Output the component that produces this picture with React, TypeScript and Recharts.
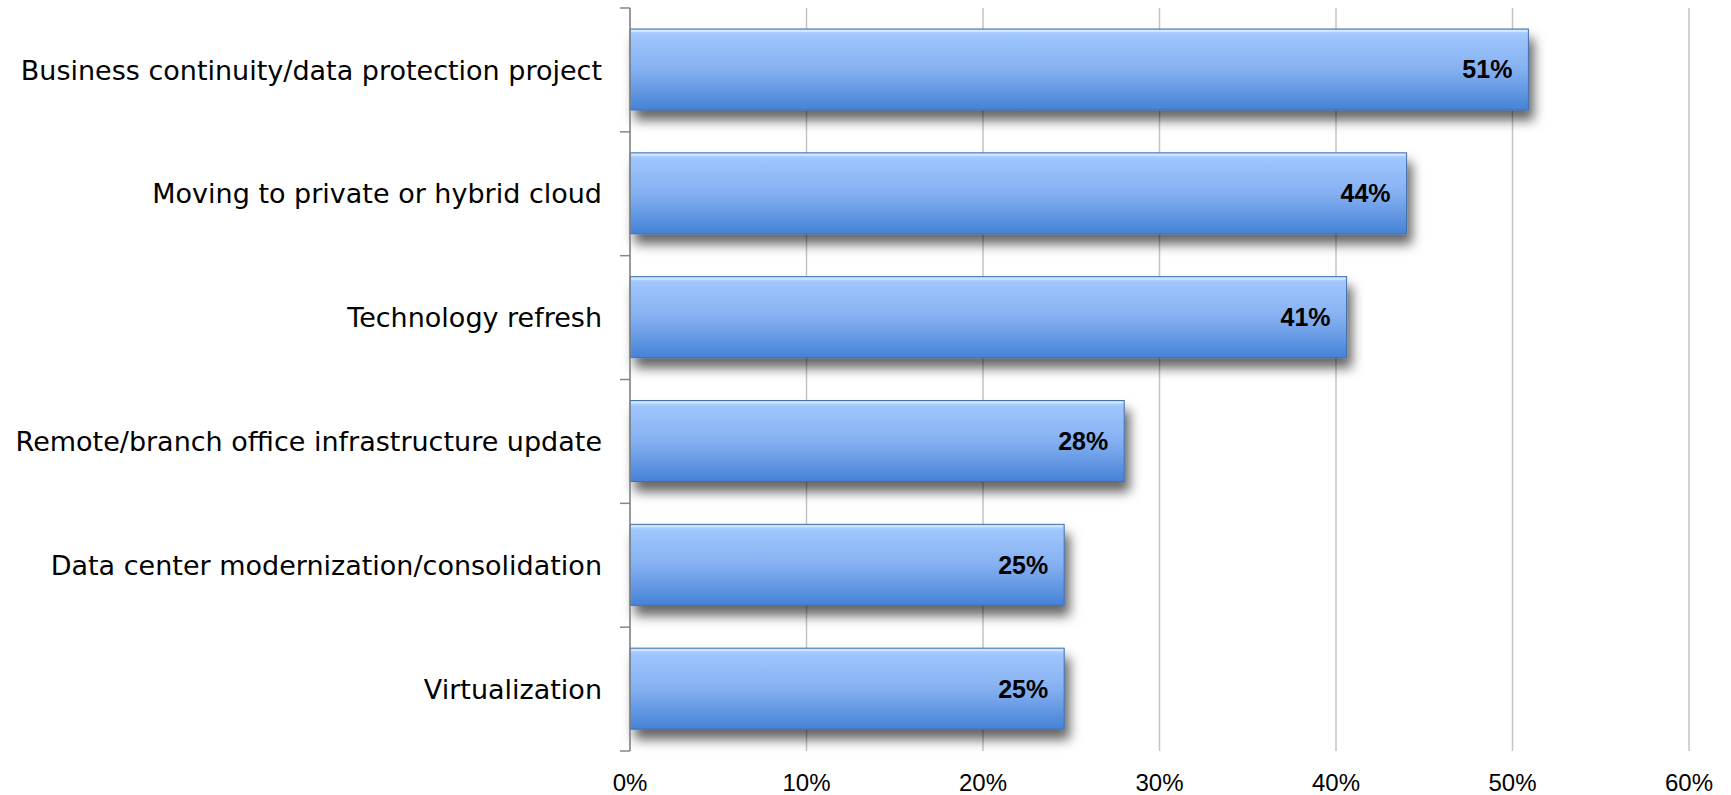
import React from 'react';
import { BarChart, Bar, XAxis, YAxis, CartesianGrid, LabelList } from 'recharts';

const categories = [
    'Business continuity/data protection project',
    'Moving to private or hybrid cloud',
    'Technology refresh',
    'Remote/branch office infrastructure update',
    'Data center modernization/consolidation',
    'Virtualization',
];
const shares = [50.9, 44.0, 40.6, 28.0, 24.6, 24.6];
const xTicks = [0, 10, 20, 30, 40, 50, 60];

const chartData = categories.map((name, i) => ({ name, share: shares[i] }));

const FONT = '"Liberation Sans", Arial, sans-serif';
const LABEL_FONT = '"DejaVu Sans", Verdana, sans-serif';
const LABEL_GAP = 28;
const PLOT_HEIGHT = 743;

const GlossyBar = (props: any) => {
    const { x, y, width, height } = props;
    if (!width || width <= 0) return null;
    return (
        <g>
            <rect x={x} y={y} width={width} height={height} fill="url(#barFill)" stroke="#3f6fae" strokeWidth={1} filter="url(#barShadow)" />
            <rect x={x + 1} y={y + 1} width={Math.max(0, width - 2)} height={2} fill="#d6e9ff" opacity={0.9} />
        </g>
    );
};

// category label plus the small tick marks that sit between categories
const CategoryTick = (props: any) => {
    const { x, y, payload, index, visibleTicksCount } = props;
    const half = typeof payload?.offset === 'number' && payload.offset > 0
        ? payload.offset
        : PLOT_HEIGHT / categories.length / 2;
    const axisX = x + LABEL_GAP;
    const isLast = index === (visibleTicksCount ?? categories.length) - 1;
    return (
        <g>
            <line x1={axisX - 10} x2={axisX} y1={y - half} y2={y - half} stroke="#868686" strokeWidth={1.5} />
            {isLast && <line x1={axisX - 10} x2={axisX} y1={y + half} y2={y + half} stroke="#868686" strokeWidth={1.5} />}
            <text x={x} y={y} dy="0.355em" textAnchor="end" fontSize={27} fill="#000" fontFamily={LABEL_FONT}>
                {payload.value}
            </text>
        </g>
    );
};

const App = () => {
    return (
        <div style={{ position: 'absolute', left: 0, top: 0, background: '#fff' }}>
            <BarChart
                width={1731}
                height={795}
                data={chartData}
                layout="vertical"
                margin={{ top: 8, right: 42, bottom: 0, left: 0 }}
            >
                <defs>
                    <linearGradient id="barFill" x1="0" y1="0" x2="0" y2="1">
                        <stop offset="0%" stopColor="#b4d5ff" />
                        <stop offset="8%" stopColor="#9fc6fd" />
                        <stop offset="50%" stopColor="#85b0f1" />
                        <stop offset="100%" stopColor="#4582d6" />
                    </linearGradient>
                    <filter id="barShadow" x="-5%" y="-20%" width="115%" height="190%">
                        <feDropShadow dx={5} dy={10} stdDeviation={6} floodColor="#000" floodOpacity={0.6} />
                    </filter>
                </defs>
                <CartesianGrid horizontal={false} stroke="#c4c4c4" strokeWidth={1.5} />
                <XAxis
                    type="number"
                    dataKey="share"
                    domain={[0, 60]}
                    ticks={xTicks}
                    tickFormatter={(v: number) => `${v}%`}
                    axisLine={false}
                    tickLine={false}
                    tickSize={0}
                    tickMargin={23}
                    height={44}
                    tick={{ fontSize: 24, fill: '#000', fontFamily: FONT }}
                />
                <YAxis
                    type="category"
                    dataKey="name"
                    width={630}
                    axisLine={{ stroke: '#868686', strokeWidth: 1.5 }}
                    tickLine={false}
                    tickSize={0}
                    tickMargin={LABEL_GAP}
                    tick={<CategoryTick />}
                />
                <Bar dataKey="share" barSize={81} shape={<GlossyBar />} isAnimationActive={false}>
                    <LabelList
                        dataKey="share"
                        position="insideRight"
                        offset={16}
                        formatter={(v: any) => `${Math.round(Number(v))}%`}
                        style={{ fontSize: 25, fontWeight: 'bold', fill: '#000', fontFamily: FONT }}
                    />
                </Bar>
            </BarChart>
        </div>
    );
};

export default App;
